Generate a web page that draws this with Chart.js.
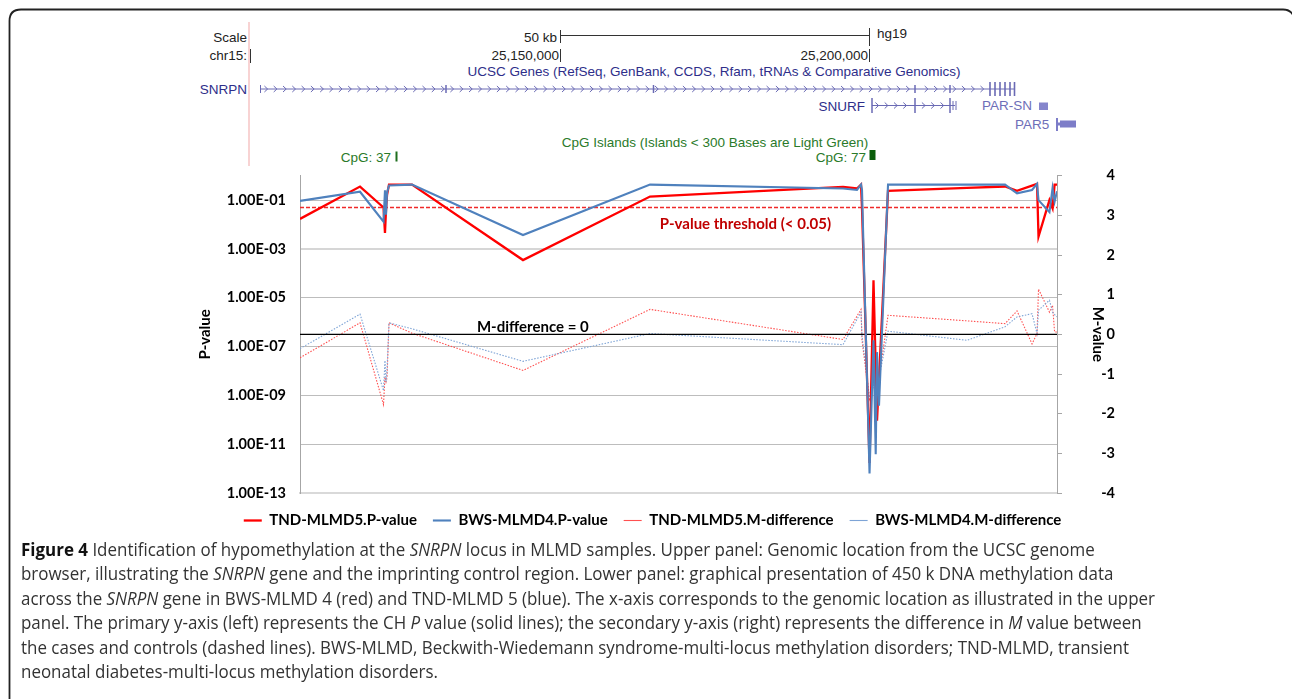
<!DOCTYPE html>
<html><head><meta charset="utf-8">
<script src="https://cdn.jsdelivr.net/npm/chart.js@4.4.0/dist/chart.umd.min.js"></script>
<style>
html,body{margin:0;padding:0;background:#fff;}
body{width:1292px;height:699px;position:relative;overflow:hidden;font-family:"Liberation Sans",Arial,sans-serif;}
#frame{position:absolute;left:0;top:0;}
#wrap{position:absolute;left:190px;top:153px;width:925px;height:385px;}
#caption{position:absolute;left:21px;top:537px;font-family:"Open Sans",sans-serif;font-size:17.5px;line-height:24.4px;color:#333;white-space:nowrap;transform-origin:0 0;}
#caption b{color:#111;}
</style></head><body>
<svg id="frame" width="1292" height="699" xmlns="http://www.w3.org/2000/svg">
<path d="M9.5 699 V21 Q9.5 9.5 21 9.5 H1283 Q1290 9.5 1293 15" fill="none" stroke="#222" stroke-width="1.8"/>
<line x1="249" y1="22" x2="249" y2="166" stroke="#f6c4c4" stroke-width="1.5"/>
<g font-family="Liberation Sans, Arial, sans-serif" font-size="13.5" fill="#222">
<text x="247" y="41.5" text-anchor="end">Scale</text>
<text x="247" y="60" text-anchor="end">chr15:</text>
<text x="557" y="41.5" text-anchor="end">50 kb</text>
<text x="877" y="37.5">hg19</text>
<text x="559" y="60" text-anchor="end">25,150,000</text>
<text x="868" y="60" text-anchor="end">25,200,000</text>
</g>
<g stroke="#333" stroke-width="1">
<line x1="250.5" y1="49" x2="250.5" y2="63"/>
<line x1="560.5" y1="30" x2="560.5" y2="43"/>
<line x1="560.5" y1="35.5" x2="869.5" y2="35.5"/>
<line x1="869.5" y1="28" x2="869.5" y2="46"/>
<line x1="560.5" y1="49" x2="560.5" y2="62"/>
<line x1="869.5" y1="49" x2="869.5" y2="62"/>
</g>
<g font-family="Liberation Sans, Arial, sans-serif" font-size="13.5">
<text x="714" y="76" text-anchor="middle" fill="#2e2e8a">UCSC Genes (RefSeq, GenBank, CCDS, Rfam, tRNAs &amp; Comparative Genomics)</text>
<text x="247" y="94" text-anchor="end" fill="#2e2e8a">SNRPN</text>
<text x="865" y="110.5" text-anchor="end" fill="#2e2e8a">SNURF</text>
<text x="982" y="110" fill="#6e6eb8">PAR-SN</text>
<text x="1015" y="128.5" fill="#6e6eb8">PAR5</text>
<text x="715" y="146.5" text-anchor="middle" fill="#2a7a2a">CpG Islands (Islands &lt; 300 Bases are Light Green)</text>
<text x="391" y="162" text-anchor="end" fill="#2a7a2a">CpG: 37</text>
<text x="866" y="162" text-anchor="end" fill="#2a7a2a">CpG: 77</text>
</g>
<g id="genes" stroke="#6a6ab4" fill="none" stroke-width="1">
<line x1="260.5" y1="89" x2="1015" y2="89"/>
<line x1="260.5" y1="85" x2="260.5" y2="93"/>
<line x1="446" y1="85" x2="446" y2="93" stroke-width="1.5"/>
<line x1="653.5" y1="85" x2="653.5" y2="93" stroke-width="1.5"/>
<line x1="915" y1="85" x2="915" y2="93" stroke-width="1.5"/>
<line x1="950" y1="85" x2="950" y2="93" stroke-width="1.5"/>
<line x1="990" y1="82" x2="990" y2="96" stroke-width="1.6"/>
<line x1="995" y1="82" x2="995" y2="96" stroke-width="1.6"/>
<line x1="1000" y1="82" x2="1000" y2="96" stroke-width="1.6"/>
<line x1="1005" y1="82" x2="1005" y2="96" stroke-width="1.6"/>
<line x1="1010" y1="82" x2="1010" y2="96" stroke-width="1.6"/>
<line x1="1014.5" y1="82" x2="1014.5" y2="96" stroke-width="1.6"/>
<line x1="872" y1="105.5" x2="955" y2="105.5"/>
<line x1="872" y1="98" x2="872" y2="113" stroke-width="1.5"/>
<line x1="915" y1="98" x2="915" y2="113" stroke-width="1.5"/>
<line x1="950" y1="98" x2="950" y2="113" stroke-width="1.5"/>
<line x1="953" y1="101" x2="953" y2="110"/>
<line x1="956" y1="101" x2="956" y2="110"/>
<path id="chev" d=""/>
</g>
<rect x="1039" y="102.5" width="9" height="7.5" fill="#8585cc"/>
<rect x="1060" y="120.5" width="16" height="7" fill="#7d7dc8"/>
<line x1="1057" y1="118" x2="1057" y2="131" stroke="#7d7dc8" stroke-width="2"/>
<line x1="1057" y1="124" x2="1061" y2="124" stroke="#7d7dc8" stroke-width="3"/>
<rect x="395.5" y="151.5" width="2" height="10" fill="#1f6e1f"/>
<rect x="869.5" y="150" width="6" height="10" fill="#0b5e0b"/>
</svg>
<div id="wrap"><canvas id="c" width="925" height="385"></canvas></div>
<div id="caption">
<div><span><b>Figure 4</b> Identification of hypomethylation at the <i>SNRPN</i> locus in MLMD samples. Upper panel: Genomic location from the UCSC genome</span></div>
<div><span>browser, illustrating the <i>SNRPN</i> gene and the imprinting control region. Lower panel: graphical presentation of 450 k DNA methylation data</span></div>
<div><span id="refline">across the <i>SNRPN</i> gene in BWS-MLMD 4 (red) and TND-MLMD 5 (blue). The x-axis corresponds to the genomic location as illustrated in the upper</span></div>
<div><span>panel. The primary y-axis (left) represents the CH <i>P</i> value (solid lines); the secondary y-axis (right) represents the difference in <i>M</i> value between</span></div>
<div><span>the cases and controls (dashed lines). BWS-MLMD, Beckwith-Wiedemann syndrome-multi-locus methylation disorders; TND-MLMD, transient</span></div>
<div><span>neonatal diabetes-multi-locus methylation disorders.</span></div>
</div>
<script>
// ---- data (genomic position in kb on chr15, hg19) ----
const positionsKb = [25107.93, 25117.64, 25121.44, 25121.68, 25121.85, 25122.01, 25122.33, 25126.05, 25144.01, 25164.56,
  25195.79, 25198.05, 25198.70, 25198.86, 25200.08, 25200.72, 25201.08, 25201.29, 25201.61, 25203.07,
  25215.85, 25222.00, 25223.94, 25226.37, 25227.18, 25227.42, 25229.19, 25229.69, 25230.02, 25230.41];
const tndPValue = [1.7e-2, 3.6e-1, 5.0e-2, 4.5e-3, 4.0e-2, 1.6e-1, 4.3e-1, 4.3e-1, 3.5e-4, 1.4e-1,
  3.5e-1, 3.0e-1, 4.3e-1, 4.8e-2, 1.7e-12, 5.2e-5, 1.3e-8, 9.1e-11, 4.7e-9, 2.4e-1,
  3.2e-1, 3.6e-1, 2.4e-1, 3.9e-1, 4.6e-1, 3.2e-3, 1.0e-1, 4.7e-2, 4.3e-1, 4.3e-1];
const bwsPValue = [9.3e-2, 2.2e-1, 1.3e-2, 2.5e-1, 2.5e-2, 2.0e-1, 4.0e-1, 4.3e-1, 3.7e-3, 4.3e-1,
  3.0e-1, 2.6e-1, 4.3e-1, 2.6e-1, 6.3e-13, 1.8e-7, 3.9e-12, 5.9e-8, 3.8e-10, 4.3e-1,
  4.3e-1, 4.3e-1, 1.9e-1, 2.6e-1, 4.6e-1, 1.0e-1, 3.2e-2, 3.1e-1, 8.7e-2, 2.3e-1];
const tndMDiff = [-0.59, 0.29, -1.77, -1.08, -1.2, -1.1, 0.29, 0.03, -0.91, 0.63,
  -0.13, 0.46, 0.63, -0.15, -1.63, -1.29, -1.24, -1.21, -1.14, 0.48,
  0.34, 0.27, 0.59, -0.24, 0.02, 1.14, 0.56, 0.73, 0.06, 0.06];
const bwsMDiff = [-0.36, 0.51, -1.42, -0.66, -1.2, -0.9, 0.29, 0.14, -0.68, 0.02,
  -0.26, 0.38, 0.56, -0.03, -1.59, -1.29, -1.19, -1.14, -1.11, 0.08,
  -0.15, 0.19, 0.44, 0.52, 0.02, 0.61, 0.86, 0.56, 0.5, 0.44];
const seriesNames = ["TND-MLMD5.P-value", "BWS-MLMD4.P-value", "TND-MLMD5.M-difference", "BWS-MLMD4.M-difference"];
const pTicks = [1e-1, 1e-3, 1e-5, 1e-7, 1e-9, 1e-11, 1e-13];
const mTicks = [4, 3, 2, 1, 0, -1, -2, -3, -4];
const pThreshold = 0.05;
const mZero = 0;
const annotations = [
  {text: "P-value threshold (< 0.05)", x: 25180, y: 0.0106, axis: "yP", color: "#c00000"},
  {text: "M-difference = 0", x: 25145.6, y: 0.18, axis: "yM", color: "#000000"}
];

// chevrons of the gene tracks (decoration of the genome browser panel)
(function(){
  let d = "";
  for (let x = 266; x < 985; x += 9.3) {
    if (Math.abs(x-446) < 3 || Math.abs(x-653.5) < 3 || Math.abs(x-915) < 3 || Math.abs(x-950) < 3) continue;
    d += `M${x-1.6} 86 L${x+1.6} 89 L${x-1.6} 92 `;
  }
  for (let x = 877; x < 950; x += 9.3) {
    if (Math.abs(x-915) < 3) continue;
    d += `M${x-1.6} 102.5 L${x+1.6} 105.5 L${x-1.6} 108.5 `;
  }
  document.getElementById('chev').setAttribute('d', d);
})();

function expLabel(v) {
  const [m, e] = Number(v).toExponential(2).split('e');
  const n = parseInt(e, 10);
  return m + 'E' + (n < 0 ? '-' : '+') + String(Math.abs(n)).padStart(2, '0');
}
const pts = arr => positionsKb.map((x, i) => ({x: x, y: arr[i]}));
const xMin = positionsKb[0], xMax = positionsKb[positionsKb.length - 1];
const FONT = "Lato";

const annotPlugin = {
  id: 'annot',
  afterDatasetsDraw(chart) {
    const c = chart.ctx;
    c.save();
    c.font = "bold 15px " + FONT;
    c.textAlign = 'center';
    c.textBaseline = 'middle';
    annotations.forEach(a => {
      c.fillStyle = a.color;
      c.fillText(a.text, chart.scales.x.getPixelForValue(a.x), chart.scales[a.axis].getPixelForValue(a.y));
    });
    c.restore();
  }
};

new Chart(document.getElementById('c'), {
  type: 'line',
  data: {
    datasets: [
      {label: seriesNames[0], data: pts(tndPValue), yAxisID: 'yP', borderColor: '#ff0000', borderWidth: 2.3, pointRadius: 0, order: 2},
      {label: seriesNames[1], data: pts(bwsPValue), yAxisID: 'yP', borderColor: '#4f81bd', borderWidth: 2.1, pointRadius: 0, order: 1},
      {label: seriesNames[2], data: pts(tndMDiff), yAxisID: 'yM', borderColor: '#ff5050', borderWidth: 1.1, borderDash: [1.5, 1.5], pointRadius: 0, order: 6},
      {label: seriesNames[3], data: pts(bwsMDiff), yAxisID: 'yM', borderColor: '#7ea4d6', borderWidth: 1.1, borderDash: [1.5, 1.5], pointRadius: 0, order: 5},
      {label: 'threshold', data: [{x: xMin, y: pThreshold}, {x: xMax, y: pThreshold}], yAxisID: 'yP', borderColor: '#f02a2a', borderWidth: 1.5, borderDash: [4, 2], pointRadius: 0, order: 4},
      {label: 'zero', data: [{x: xMin, y: mZero}, {x: xMax, y: mZero}], yAxisID: 'yM', borderColor: '#000000', borderWidth: 1.4, pointRadius: 0, order: 3}
    ]
  },
  options: {
    responsive: false,
    animation: false,
    devicePixelRatio: 1,
    layout: {padding: {top: 11, bottom: 0, left: 0, right: 0}},
    elements: {line: {tension: 0}},
    plugins: {
      tooltip: {enabled: false},
      legend: {
        position: 'bottom',
        labels: {
          usePointStyle: true, pointStyle: 'line', pointStyleWidth: 18, padding: 16,
          font: {family: FONT, weight: 'bold', size: 15}, color: '#000',
          filter: item => item.datasetIndex < 4,
          sort: (a, b) => a.datasetIndex - b.datasetIndex
        }
      }
    },
    scales: {
      x: {
        type: 'linear', min: xMin, max: xMax,
        ticks: {display: false},
        grid: {display: false, drawTicks: false},
        border: {color: '#d9d9d9', width: 2},
        afterFit(s) { s.height = 4; }
      },
      yP: {
        type: 'logarithmic', position: 'left', min: 1e-13, max: 1,
        afterBuildTicks(s) { s.ticks = pTicks.map(v => ({value: v})); },
        ticks: {callback: v => expLabel(v), autoSkip: false, padding: 14, color: '#000', font: {family: FONT, weight: 'bold', size: 14.5}},
        grid: {drawTicks: false, color: c => (c.tick && c.tick.value === 1e-3) ? '#d6d6d6' : '#bdbdbd', lineWidth: c => (c.tick && c.tick.value === 1e-3) ? 2 : 1},
        border: {color: '#a6a6a6', width: 1},
        title: {display: true, text: 'P-value', color: '#000', font: {family: FONT, weight: 'bold', size: 15}, padding: {top: 6, bottom: 0}},
        afterFit(s) { s.width = 110; }
      },
      yM: {
        type: 'linear', position: 'right', min: -4, max: 4,
        afterBuildTicks(s) { s.ticks = mTicks.map(v => ({value: v})); },
        ticks: {crossAlign: 'far', padding: 1, color: '#000', font: {family: FONT, weight: 'bold', size: 14.5}},
        grid: {drawOnChartArea: false, drawTicks: true, tickLength: 5, color: '#a6a6a6'},
        border: {color: '#a6a6a6', width: 1},
        title: {display: true, text: 'M-value', color: '#000', font: {family: FONT, weight: 'bold', size: 15}, padding: {top: 8, bottom: 0}},
        afterFit(s) { s.width = 58; }
      }
    }
  },
  plugins: [annotPlugin]
});

function fitCaption() {
  const cap = document.getElementById('caption');
  cap.style.transform = 'none';
  const w = document.getElementById('refline').getBoundingClientRect().width;
  const target = 1155 - 21;
  cap.style.transform = 'scaleX(' + (target / w) + ')';
}
fitCaption();
if (document.fonts && document.fonts.ready) document.fonts.ready.then(fitCaption);
</script>
</body></html>
